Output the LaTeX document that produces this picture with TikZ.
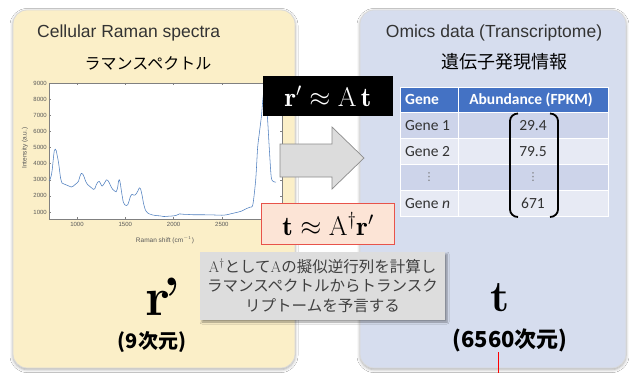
\documentclass[tikz,border=0pt]{standalone}
\usepackage{fix-cm}
\usepackage{fontspec}
\usetikzlibrary{shadows.blur}
\newfontfamily\hel{Liberation Sans}
\newfontfamily\cjk{Noto Sans CJK JP}
\newfontfamily\calib{Carlito}
\newfontfamily\dejavu{DejaVu Sans}
\definecolor{panelY}{HTML}{FBEFC8}
\definecolor{panelB}{HTML}{D6DDEE}
\definecolor{hdr}{HTML}{4472C4}
\definecolor{rowA}{HTML}{CDD4EA}
\definecolor{rowB}{HTML}{E7EAF4}
\definecolor{pinkF}{HTML}{FCE4D6}
\definecolor{pinkD}{HTML}{E8534A}
\definecolor{noteF}{HTML}{DDDDDD}
\definecolor{specB}{HTML}{4F7FBF}
\definecolor{axisG}{HTML}{808080}
\definecolor{arrF}{HTML}{DCDCDC}
\definecolor{arrD}{HTML}{8C8C8C}
\tikzset{
  panel/.style={rounded corners=14pt, draw=black!15, line width=0.8pt, inner sep=0pt,
    blur shadow={shadow xshift=0pt, shadow yshift=-1.5pt, shadow blur radius=3pt, shadow opacity=35}},
  ticklab/.style={font=\hel\fontsize{6}{7}\selectfont, text=black!65, inner sep=1pt},
  axlab/.style={font=\hel\fontsize{6.5}{7.5}\selectfont, text=black!65, inner sep=0pt},
  tcell/.style={font=\calib\fontsize{15.5}{17}\selectfont, text=black!80, inner sep=0pt},
  tdots/.style={font=\dejavu\fontsize{11}{12}\selectfont, text=black!55, inner sep=0pt},
  thead/.style={font=\calib\bfseries\fontsize{15.5}{17}\selectfont, text=white, inner sep=0pt},
  brack/.style={line width=1.8pt, black},
}
\begin{document}
\begin{tikzpicture}[x=1pt,y=-1pt]
\useasboundingbox (0,0) rectangle (629,373);
\fill[white] (0,0) rectangle (629,373);
% panels
\node[panel, fill=panelY, minimum width=282pt, minimum height=358pt] (lp) at (154,189) {};
\node[panel, fill=panelB, minimum width=266pt, minimum height=358pt] (rpn) at (493,189) {};
% titles
\node[font=\hel\fontsize{17.5}{20}\selectfont, text=black!80, anchor=west, inner sep=0pt] (t1) at (37,33) {Cellular Raman spectra};
\node[font=\cjk\fontsize{16}{19}\selectfont, inner sep=0pt] (t2) at (148,63) {ラマンスペクトル};
\node[font=\hel\fontsize{17.5}{20}\selectfont, text=black!80, inner sep=0pt] (t3) at (494,33) {Omics data (Transcriptome)};
\node[font=\cjk\fontsize{18}{20}\selectfont, inner sep=0pt] (t4) at (504,62) {遺伝子発現情報};
% plot
\begin{scope}[shift={(-19.6,228.13)}, x=9.66pt, y=16.13pt]
  \fill[white] (7.10,0.547) rectangle (31.22,9);
  \draw[axisG, line width=0.4pt] (7.10,0.547) rectangle (31.22,9);
  \foreach \v in {10,15,20,25,30}{
    \draw[axisG, line width=0.4pt] (\v,0.547) -- ++(0,0.12);
    \draw[axisG, line width=0.4pt] (\v,9) -- ++(0,-0.12);
  }
  \foreach \v in {10,15,20,25}{
    \node[ticklab, anchor=north] (xl\v) at (\v,0.42) {\v00};
  }
  \foreach \v in {1,...,9}{
    \draw[axisG, line width=0.4pt] (7.10,\v) -- ++(0.2,0);
    \draw[axisG, line width=0.4pt] (31.22,\v) -- ++(-0.2,0);
    \node[ticklab, anchor=east] (yl\v) at (7.0,\v) {\v000};
  }
  \draw[specB, line width=0.55pt, line join=round]
   plot[smooth, tension=0.45] coordinates {
(7.10,2.95) (7.20,3.00) (7.35,3.30) (7.45,3.70) (7.55,4.30) (7.65,4.80) (7.75,4.90) (7.85,4.80)
(7.95,4.50) (8.05,4.20) (8.15,3.80) (8.30,3.10) (8.45,2.80) (8.60,2.75) (8.80,2.70) (9.00,2.65)
(9.20,2.60) (9.40,2.55) (9.60,2.60) (9.80,2.70) (10.00,2.80) (10.15,2.90) (10.30,3.20) (10.45,3.40)
(10.60,3.35) (10.75,3.15) (10.90,2.90) (11.10,2.70) (11.30,2.60) (11.50,2.50) (11.70,2.40) (11.85,2.45)
(12.00,2.70) (12.15,2.85) (12.30,2.90) (12.45,2.75) (12.60,2.60) (12.75,2.70) (12.90,2.85) (13.05,3.00)
(13.20,2.95) (13.35,2.80) (13.50,2.60) (13.70,2.40) (13.90,2.30) (14.05,2.25) (14.20,2.50) (14.30,2.90)
(14.40,3.00) (14.50,2.70) (14.65,2.10) (14.80,1.60) (14.95,1.45) (15.10,1.40) (15.25,1.45) (15.40,1.70)
(15.55,2.00) (15.70,2.10) (15.85,2.05) (16.00,2.05) (16.15,2.15) (16.30,2.30) (16.45,2.50) (16.60,2.40)
(16.75,2.00) (16.90,1.50) (17.10,1.10) (17.30,0.95) (17.50,0.88) (17.80,0.82) (18.20,0.78) (18.60,0.76)
(19.00,0.72) (19.50,0.74) (20.00,0.76) (20.30,0.80) (20.60,0.88) (21.00,0.86) (21.50,0.85) (22.00,0.83)
(23.00,0.83) (24.00,0.82) (25.00,0.80) (25.50,0.83) (26.00,0.90) (26.50,0.97) (27.00,1.05) (27.50,1.20)
(27.90,1.30) (28.20,1.45) (28.50,3.00) (28.70,5.00) (28.90,6.00) (29.10,7.00) (29.30,8.30) (29.50,8.00)
(29.70,7.00) (29.90,5.00) (30.10,3.20) (30.30,2.90) (30.60,2.85)};
\end{scope}
\node[axlab] (xlab) at (165,240) {Raman shift (cm$^{-1}$)};
\node[axlab, rotate=90] (ylab) at (25,148) {Intensity (a.u.)};
% block arrow
\coordinate (a1) at (280,144); \coordinate (a2) at (332,144); \coordinate (a3) at (332,127);
\coordinate (a4) at (364,158); \coordinate (a5) at (332,189); \coordinate (a6) at (332,177);
\coordinate (a7) at (280,177);
\draw[fill=arrF, draw=arrD, line width=0.7pt, line join=miter] (a1) -- (a2) -- (a3) -- (a4) -- (a5) -- (a6) -- (a7) -- cycle;
% equations
\node[fill=black, text=white, minimum width=130pt, minimum height=40pt, inner sep=0pt,
      font=\fontsize{27}{29}\selectfont] (eq1) at (328,96) {$\mathbf{r}'\approx\mathrm{A}\,\mathbf{t}$};
\node[fill=pinkF, draw=pinkD, line width=1.2pt, minimum width=133pt, minimum height=41pt, inner sep=0pt,
      font=\fontsize{27}{29}\selectfont] (eq2) at (328,224) {$\mathbf{t}\approx\mathrm{A}^{\dagger}\mathbf{r}'$};
% table
\fill[hdr] (400,87) rectangle (608,112);
\fill[rowA] (400,112) rectangle (608,138.2);
\fill[rowB] (400,138.2) rectangle (608,164.4);
\fill[rowA] (400,164.4) rectangle (608,190.6);
\fill[rowB] (400,190.6) rectangle (608,216.8);
\draw[white, line width=1pt] (458,87) -- (458,216.8);
\foreach \yy in {112,138.2,164.4,190.6}{\draw[white, line width=1pt] (400,\yy) -- (608,\yy);}
\draw[white, line width=1pt] (400,87) rectangle (608,216.8);
\node[thead, anchor=west] (hg) at (405,99.5) {Gene};
\node[thead] (ha) at (531,99.5) {Abundance (FPKM)};
\node[tcell, anchor=west] (g1) at (405,125.5) {Gene 1};
\node[tcell, anchor=west] (g2) at (405,151.5) {Gene 2};
\node[tdots] (g3) at (429,177.5) {⋮};
\node[tcell, anchor=west] (g4) at (405,203.7) {Gene \textit{n}};
\node[tcell] (v1) at (533,125.5) {29.4};
\node[tcell] (v2) at (533,151.5) {79.5};
\node[tdots] (v3) at (533,177.5) {⋮};
\node[tcell] (v4) at (533,203.7) {671};
\draw[brack] (518,113.5) to[out=180,in=90] (510,121) -- (510,209.5) to[out=-90,in=180] (518,217);
\draw[brack] (550,113.5) to[out=0,in=90] (558,121) -- (558,209.5) to[out=-90,in=0] (550,217);
% note box
\node[fill=noteF, minimum width=245pt, minimum height=68pt, inner sep=0pt, align=center,
      text=black!75, font=\cjk\fontsize{15.5}{19.5}\selectfont,
      blur shadow={shadow xshift=2pt, shadow yshift=-2pt, shadow blur radius=2pt, shadow opacity=40}] (note) at (322.5,286)
  {\textrm{A}$^{\dagger}$として\textrm{A}の擬似逆行列を計算し\\ラマンスペクトルからトランスク\\リプトームを予言する};
% big symbols
\node[font=\bfseries\fontsize{54}{58}\selectfont, inner sep=0pt] (rp) at (163,297) {r\kern-6pt’};
\node[font=\cjk\bfseries\fontsize{20}{22}\selectfont, inner sep=0pt] (rd) at (152,342) {(9次元)};
\node[font=\bfseries\fontsize{44}{48}\selectfont, inner sep=0pt] (tt) at (500,298) {t};
\node[font=\cjk\bfseries\fontsize{22}{24}\selectfont, inner sep=0pt] (td) at (510,340) {(6560次元)};
% red line
\coordinate (rl1) at (498.5,352);
\coordinate (rl2) at (498.5,373);
\draw[red, line width=1.6pt] (rl1) -- (rl2);
\end{tikzpicture}
\end{document}
